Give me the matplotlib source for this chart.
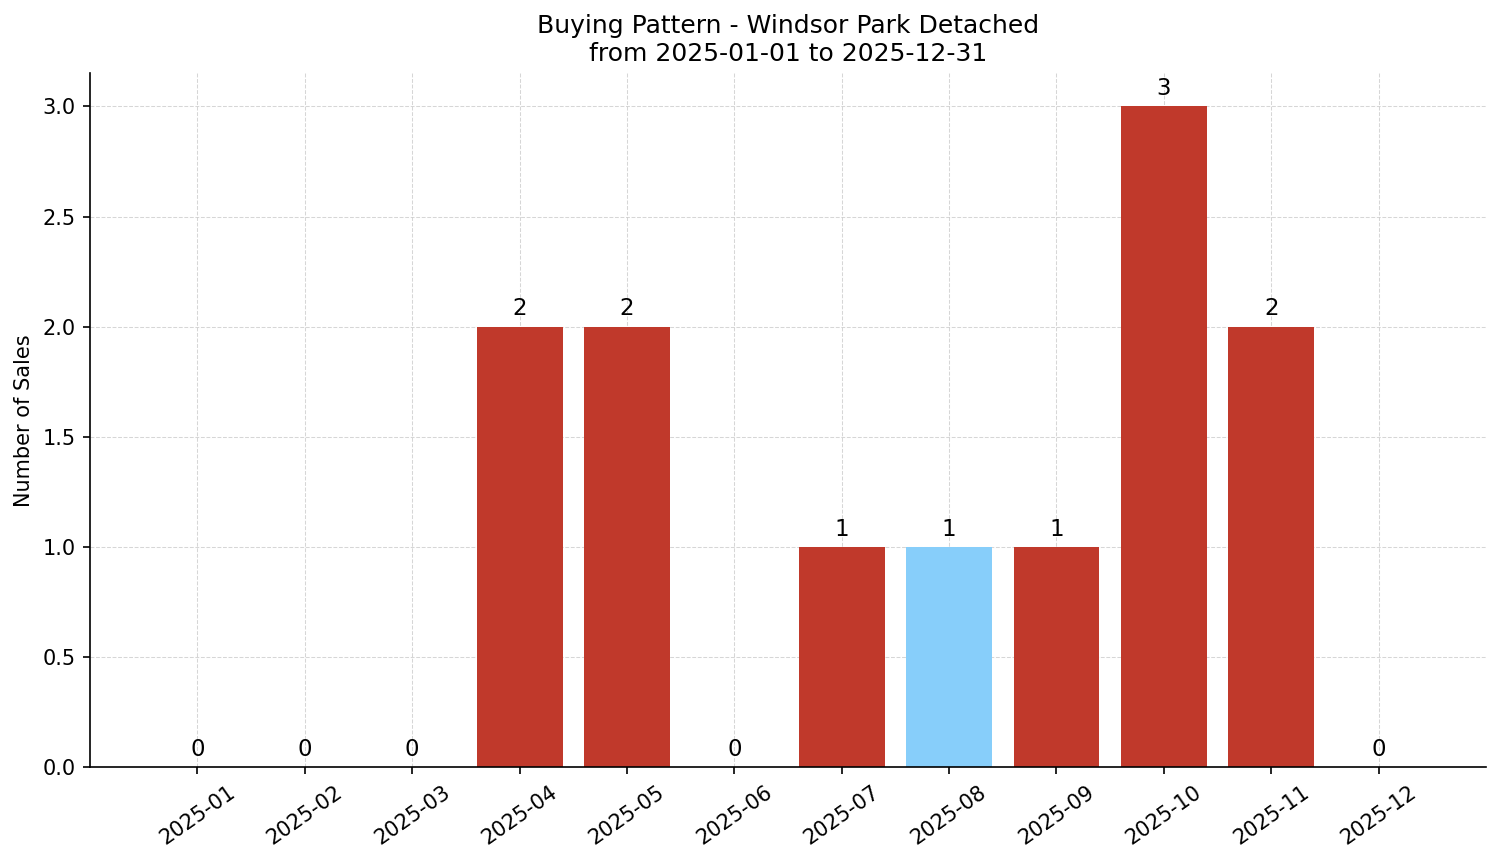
import matplotlib
matplotlib.use("Agg")
import matplotlib.pyplot as plt

# monthly sales counts
months = ['2025-01', '2025-02', '2025-03', '2025-04', '2025-05', '2025-06',
          '2025-07', '2025-08', '2025-09', '2025-10', '2025-11', '2025-12']
sales = [0, 0, 0, 2, 2, 0, 1, 1, 1, 3, 2, 0]
highlight_month = '2025-08'

colors = ['#87cefa' if m == highlight_month else '#c0392b' for m in months]

fig, ax = plt.subplots(figsize=(1501 / 150, 863 / 150), dpi=150)
x = range(len(months))
bars = ax.bar(x, sales, width=0.8, color=colors, zorder=2)

for xi, v in zip(x, sales):
    ax.annotate(str(v), (xi, v), xytext=(0, 3), textcoords='offset points',
                ha='center', va='bottom', fontsize=11)

ax.set_xticks(list(x))
ax.set_xticklabels(months, rotation=35, ha='center')
ax.set_xlim(-1, 12)
ax.set_ylim(0, 3.15)
ax.set_ylabel('Number of Sales')
ax.set_title('Buying Pattern - Windsor Park Detached\nfrom 2025-01-01 to 2025-12-31', fontsize=12)
ax.grid(True, linestyle='--', linewidth=0.5, color='#cccccc', alpha=0.8, zorder=0)
ax.set_axisbelow(True)
ax.spines['top'].set_visible(False)
ax.spines['right'].set_visible(False)

fig.subplots_adjust(left=0.06, right=0.99, top=0.915, bottom=0.111)
fig.savefig('out.png', dpi=150)
